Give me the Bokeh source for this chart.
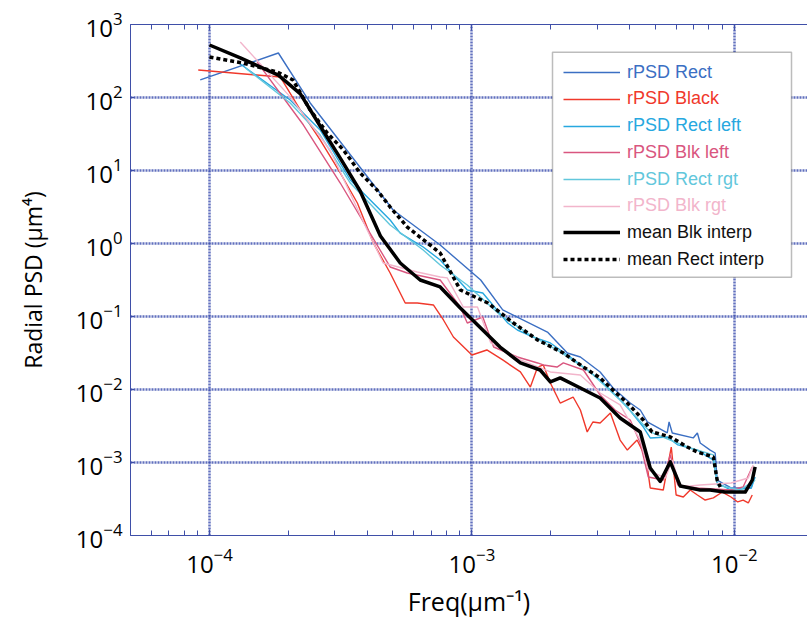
import numpy as np
from bokeh.plotting import figure
from bokeh.models import (Range1d, FixedTicker, LogAxis, Legend, LegendItem,
                          BoxAnnotation, CustomJSTickFormatter, LogTickFormatter)
from bokeh.embed import file_html
from bokeh.resources import INLINE

# ---------------- data ----------------
rect_freq = [9.22e-5, 1.83e-4, 2.42e-4, 5.01e-4, 7.57e-4, 1.08e-3, 1.31e-3, 1.94e-3, 2.31e-3,
             2.59e-3, 3.08e-3, 3.45e-3, 4.01e-3, 4.38e-3, 4.66e-3, 5.55e-3, 5.64e-3, 5.80e-3,
             6.97e-3, 7.23e-3, 7.41e-3, 8.09e-3, 8.45e-3, 8.60e-3, 9.71e-3, 1.16e-2, 1.18e-2]
rect_psd = [174, 407, 84.1, 2.88, 0.953, 0.316, 0.123, 0.0613, 0.0316,
            0.0279, 0.0174, 0.0105, 0.00653, 0.00524, 0.00359, 0.00254, 0.00359, 0.00254,
            0.00217, 0.00254, 0.00185, 0.00148, 0.00135, 5.75e-4, 4.48e-4, 4.48e-4, 5.75e-4]

black_freq = [9.06e-5, 1.86e-4, 2.22e-4, 2.64e-4, 3.15e-4, 3.66e-4, 4.21e-4, 4.88e-4, 5.57e-4,
              6.19e-4, 7.13e-4, 7.79e-4, 8.50e-4, 1.00e-3, 1.14e-3, 1.31e-3, 1.53e-3, 1.67e-3,
              1.78e-3, 1.87e-3, 1.99e-3, 2.17e-3, 2.43e-3, 2.59e-3, 2.75e-3, 2.89e-3, 3.08e-3,
              3.37e-3, 3.67e-3, 3.91e-3, 4.26e-3, 4.61e-3, 4.78e-3, 5.36e-3, 5.75e-3, 6.00e-3,
              6.39e-3, 6.79e-3, 7.23e-3, 7.74e-3, 8.32e-3, 9.00e-3, 9.71e-3, 1.03e-2, 1.08e-2,
              1.13e-2, 1.17e-2]
black_psd = [238, 191, 67.0, 26.2, 9.25, 3.59, 1.02, 0.394, 0.153,
             0.153, 0.144, 0.0896, 0.0524, 0.0297, 0.0348, 0.0254, 0.0174, 0.0108,
             0.0203, 0.0217, 0.0123, 0.00653, 0.00789, 0.00524, 0.00262, 0.00359, 0.00348,
             0.00476, 0.00203, 0.00148, 0.00203, 0.00115, 4.48e-4, 4.20e-4, 1.63e-3, 3.59e-4,
             3.37e-4, 4.20e-4, 3.59e-4, 3.06e-4, 3.27e-4, 3.94e-4, 3.37e-4, 2.88e-4, 3.06e-4,
             2.79e-4, 3.59e-4]

rect_left_freq = [1.28e-4, 2.03e-4, 2.64e-4, 3.44e-4, 4.88e-4, 5.33e-4, 6.52e-4, 7.57e-4, 9.60e-4,
                  1.10e-3, 1.37e-3, 1.49e-3, 1.71e-3, 1.99e-3, 2.37e-3, 2.66e-3, 3.08e-3, 3.91e-3,
                  4.50e-3, 4.78e-3, 5.55e-3, 6.09e-3, 7.23e-3, 8.32e-3, 8.60e-3, 9.71e-3, 1.16e-2,
                  1.20e-2]
rect_left_psd = [306, 92.4, 35.9, 7.41, 2.10, 1.39, 0.896, 0.594, 0.231,
                 0.210, 0.0815, 0.0653, 0.0524, 0.0434, 0.0279, 0.0203, 0.0135, 0.00576,
                 0.00306, 0.00217, 0.00224, 0.00174, 0.00148, 0.00108, 5.24e-4, 4.20e-4, 4.48e-4,
                 6.33e-4]

blk_left_freq = [1.52e-4, 2.28e-4, 3.15e-4, 4.88e-4, 5.67e-4, 7.57e-4, 9.03e-4, 9.60e-4, 1.10e-3,
                 1.21e-3, 1.49e-3, 1.78e-3, 1.87e-3, 2.11e-3, 2.23e-3, 2.66e-3, 3.08e-3, 3.51e-3,
                 4.01e-3, 4.38e-3, 4.70e-3, 5.36e-3, 5.70e-3, 6.09e-3, 7.23e-3, 9.71e-3, 1.08e-2,
                 1.17e-2]
blk_left_psd = [306, 42.0, 6.74, 0.477, 0.394, 0.316, 0.135, 0.0815, 0.0984,
                0.0382, 0.0279, 0.0231, 0.0217, 0.0203, 0.0231, 0.0185, 0.00841, 0.00524,
                0.00382, 0.00185, 6.33e-4, 5.75e-4, 0.00127, 4.92e-4, 4.48e-4, 4.20e-4, 4.62e-4,
                8.68e-4]

rect_rgt_freq = [1.37e-4, 2.03e-4, 2.64e-4, 3.44e-4, 4.88e-4, 6.52e-4, 7.57e-4, 9.60e-4, 1.28e-3,
                 1.67e-3, 2.17e-3, 2.82e-3, 3.67e-3, 4.78e-3, 5.70e-3, 6.79e-3, 8.32e-3, 8.60e-3,
                 1.05e-2, 1.20e-2]
rect_rgt_psd = [254, 84.1, 30.6, 6.74, 1.79, 0.814, 0.508, 0.270, 0.105,
                0.0558, 0.0327, 0.0174, 0.00718, 0.00262, 0.00203, 0.00158, 0.00127, 4.92e-4,
                4.20e-4, 5.75e-4]

blk_rgt_freq = [1.31e-4, 2.03e-4, 2.88e-4, 3.99e-4, 4.59e-4, 6.19e-4, 7.57e-4, 8.05e-4, 9.27e-4,
                1.05e-3, 1.18e-3, 1.53e-3, 1.99e-3, 2.59e-3, 3.08e-3, 3.67e-3, 4.38e-3, 4.70e-3,
                5.46e-3, 5.80e-3, 6.22e-3, 7.41e-3, 9.71e-3, 1.13e-2, 1.18e-2]
blk_rgt_psd = [576, 102, 19.1, 1.53, 0.541, 0.407, 0.348, 0.338, 0.135,
               0.135, 0.0434, 0.0254, 0.0174, 0.0158, 0.00895, 0.00614, 0.00203, 7.89e-4,
               6.13e-4, 0.00108, 4.62e-4, 4.92e-4, 5.24e-4, 6.13e-4, 9.24e-4]

mean_blk_freq = [1.0e-4, 1.31e-4, 1.83e-4, 2.22e-4, 2.64e-4, 3.15e-4, 3.75e-4, 4.48e-4, 5.33e-4,
                 6.35e-4, 7.57e-4, 9.03e-4, 1.08e-3, 1.28e-3, 1.53e-3, 1.82e-3, 1.99e-3, 2.17e-3,
                 2.59e-3, 3.08e-3, 3.67e-3, 4.38e-3, 4.78e-3, 5.22e-3, 5.70e-3, 6.22e-3, 6.79e-3,
                 7.41e-3, 8.09e-3, 8.60e-3, 9.23e-3, 1.01e-2, 1.10e-2, 1.17e-2, 1.20e-2]
mean_blk_psd = [524, 348, 203, 112, 40.7, 14.8, 5.24, 1.27, 0.541,
                0.316, 0.254, 0.131, 0.0696, 0.0382, 0.0231, 0.0185, 0.0127, 0.0144,
                0.0105, 0.00765, 0.00407, 0.00262, 8.4e-4, 5.5e-4, 1.02e-3, 4.76e-4, 4.48e-4,
                4.20e-4, 4.20e-4, 4.07e-4, 3.94e-4, 3.94e-4, 3.94e-4, 5.75e-4, 8.68e-4]

mean_rect_freq = [1.0e-4, 1.34e-4, 1.81e-4, 2.08e-4, 2.42e-4, 2.81e-4, 3.24e-4, 3.75e-4, 4.35e-4,
                  4.88e-4, 5.67e-4, 6.76e-4, 7.57e-4, 9.03e-4, 1.15e-3, 1.44e-3, 1.78e-3, 2.23e-3,
                  2.66e-3, 3.08e-3, 3.51e-3, 3.91e-3, 4.50e-3, 4.86e-3, 5.70e-3, 6.62e-3, 7.23e-3,
                  8.32e-3, 8.60e-3, 8.84e-3]
mean_rect_psd = [359, 297, 224, 174, 67.4, 32.6, 19.1, 9.25, 5.41,
                 3.16, 1.68, 1.02, 0.741, 0.231, 0.153, 0.0815, 0.0477, 0.0316,
                 0.0203, 0.0144, 0.00924, 0.00653, 0.00382, 0.00262, 0.00224, 0.00163, 0.00139,
                 0.00119, 5.75e-4, 4.62e-4]

x_ticks = [1e-4, 1e-3, 1e-2]
y_ticks = [1e-4, 1e-3, 1e-2, 1e-1, 1e0, 1e1, 1e2, 1e3]
x_title = "Freq(µm⁻¹)"
y_title = "Radial PSD (µm⁴)"

series = [
    ("rPSD Rect", rect_freq, rect_psd, "#3b6fc3"),
    ("rPSD Black", black_freq, black_psd, "#f0382b"),
    ("rPSD Rect left", rect_left_freq, rect_left_psd, "#27a8df"),
    ("rPSD Blk left", blk_left_freq, blk_left_psd, "#d9567f"),
    ("rPSD Rect rgt", rect_rgt_freq, rect_rgt_psd, "#62c7dc"),
    ("rPSD Blk rgt", blk_rgt_freq, blk_rgt_psd, "#f2b5cb"),
]

# ---------------- figure ----------------
AXC = "#3f4fa8"
GRIDC = "#3a4cae"
FONT = "Open Sans"

p = figure(x_axis_type="log", y_axis_type="log",
           x_range=Range1d(5e-5, 1.9e-2), y_range=Range1d(1e-4, 1e3),
           frame_width=677, frame_height=511,
           min_border_left=130, min_border_right=0, min_border_top=24, min_border_bottom=87,
           output_backend="svg", toolbar_location=None,
           outline_line_color=None, background_fill_color="white", border_fill_color="white")

x_minor = [m * 10.0 ** e for e in (-5, -4, -3, -2) for m in range(2, 10)]
xt = FixedTicker(ticks=x_ticks, minor_ticks=x_minor)
yt = FixedTicker(ticks=y_ticks, minor_ticks=[])

xa = p.xaxis[0]
xa.ticker = xt
xa.formatter = LogTickFormatter()
xa.axis_line_color = AXC
xa.major_tick_line_color = AXC
xa.major_tick_in = 6
xa.major_tick_out = 0
xa.minor_tick_line_color = AXC
xa.minor_tick_in = 5
xa.minor_tick_out = 0
xa.major_label_text_font = FONT
xa.major_label_text_font_size = "24px"
xa.major_label_text_color = "black"
xa.major_label_standoff = 12
xa.axis_label = x_title
xa.axis_label_text_font = FONT
xa.axis_label_text_font_size = "25px"
xa.axis_label_text_font_style = "normal"
xa.axis_label_text_color = "black"
xa.axis_label_standoff = 8

ya = p.yaxis[0]
ya.ticker = yt
ya.formatter = LogTickFormatter()
ya.axis_line_color = AXC
ya.major_tick_line_color = AXC
ya.major_tick_in = 4
ya.major_tick_out = 0
ya.minor_tick_line_color = None
ya.major_label_text_font = FONT
ya.major_label_text_font_size = "24px"
ya.major_label_text_color = "black"
ya.major_label_standoff = 8
ya.axis_label = y_title
ya.axis_label_text_font = FONT
ya.axis_label_text_font_size = "23px"
ya.axis_label_text_font_style = "normal"
ya.axis_label_text_color = "black"
ya.axis_label_standoff = 24

top = LogAxis(ticker=xt, formatter=CustomJSTickFormatter(code="return ''"),
              axis_line_color=AXC, major_tick_line_color=AXC, major_tick_in=6, major_tick_out=0,
              minor_tick_line_color=AXC, minor_tick_in=5, minor_tick_out=0,
              major_label_text_font_size="1px")
p.add_layout(top, "above")

p.xgrid.ticker = FixedTicker(ticks=x_ticks)
p.ygrid.ticker = FixedTicker(ticks=y_ticks)
for g in (p.xgrid[0], p.ygrid[0]):
    g.grid_line_color = GRIDC
    g.grid_line_width = 2.5
    g.grid_line_dash = "2 1"
    g.grid_line_alpha = 0.8

renderers = []
for name, f, v, c in series:
    r = p.line(f, v, line_color=c, line_width=1.4)
    renderers.append((name, r, c))

r_blk = p.line(mean_blk_freq, mean_blk_psd, line_color="black", line_width=3.5, line_join="round")
r_rect = p.line(mean_rect_freq, mean_rect_psd, line_color="black", line_width=3.5,
                line_dash="4 3")
renderers.append(("mean Blk interp", r_blk, "#111111"))
renderers.append(("mean Rect interp", r_rect, "#111111"))

# ---------------- legend ----------------
FB = 535.3  # frame bottom in canvas pixels (for screen offsets)
p.add_layout(BoxAnnotation(left=552 - 130, right=791 - 130, top=FB - 52, bottom=FB - 277,
                           left_units="screen", right_units="screen",
                           top_units="screen", bottom_units="screen",
                           fill_color="white", fill_alpha=1.0,
                           line_color="#222222", line_width=1.5))

for i, (name, r, c) in enumerate(renderers):
    yc = 73 + 26.7 * i
    leg = Legend(items=[LegendItem(label=name, renderers=[r])],
                 location=(563 - 130, FB - yc - 10),
                 padding=0, margin=0, spacing=0,
                 border_line_color=None, background_fill_alpha=0,
                 glyph_width=57, glyph_height=20, label_height=20, label_standoff=7,
                 label_text_font="Liberation Sans", label_text_font_size="18px",
                 label_text_color=c, label_text_baseline="middle")
    p.add_layout(leg)

open("out.html", "w").write(file_html(p, INLINE))
